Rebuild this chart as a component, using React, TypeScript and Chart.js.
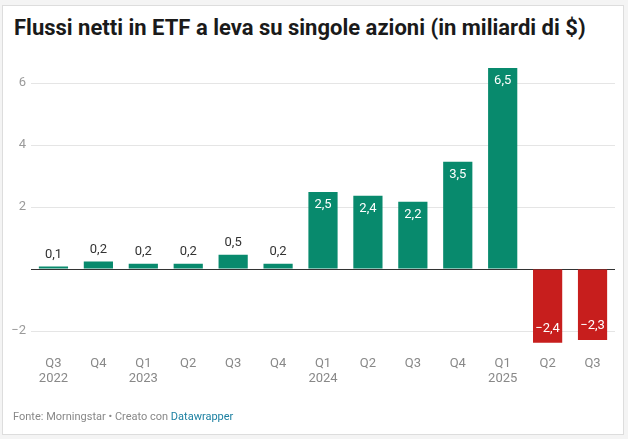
import React, { useEffect, useRef } from "react";
import { Chart, registerables } from "chart.js";

Chart.register(...registerables);

const quarters = ["Q3", "Q4", "Q1", "Q2", "Q3", "Q4", "Q1", "Q2", "Q3", "Q4", "Q1", "Q2", "Q3"];
const years = ["2022", "", "2023", "", "", "", "2024", "", "", "", "2025", "", ""];
const flows = [0.08, 0.24, 0.17, 0.17, 0.46, 0.17, 2.48, 2.36, 2.17, 3.46, 6.48, -2.38, -2.29];
const yTicks = [-2, 0, 2, 4, 6];

const GREEN = "#088a6d";
const RED = "#c71e1d";
const FONT = "Roboto, 'Noto Sans', sans-serif";

const fmt = (v: number) => v.toFixed(1).replace(".", ",").replace("-", "\u2212");

const valueLabels = {
  id: "valueLabels",
  afterDatasetsDraw(chart: any) {
    const ctx = chart.ctx;
    const meta = chart.getDatasetMeta(0);
    ctx.save();
    ctx.font = `400 13px ${FONT}`;
    ctx.textAlign = "center";
    ctx.textBaseline = "middle";
    meta.data.forEach((bar: any, i: number) => {
      const v = flows[i];
      const { x, y, base } = bar.getProps(["x", "y", "base"], true);
      const h = Math.abs(base - y);
      const t = fmt(v);
      if (v >= 0) {
        if (h > 26) {
          ctx.fillStyle = "#ffffff";
          ctx.fillText(t, x, y + 13);
        } else {
          ctx.fillStyle = "#333333";
          ctx.fillText(t, x, y - 12);
        }
      } else {
        if (h > 26) {
          ctx.fillStyle = "#ffffff";
          ctx.fillText(t, x, y - 14);
        } else {
          ctx.fillStyle = "#333333";
          ctx.fillText(t, x, y + 12);
        }
      }
    });
    ctx.restore();
  },
};

export default function App() {
  const ref = useRef<HTMLCanvasElement | null>(null);

  useEffect(() => {
    if (!ref.current) return;
    const labels = quarters.map((q, i) => (years[i] ? [q, years[i]] : [q]));
    const chart = new Chart(ref.current, {
      type: "bar",
      data: {
        labels,
        datasets: [
          {
            data: flows,
            backgroundColor: flows.map((v) => (v >= 0 ? GREEN : RED)),
            barPercentage: 0.65,
            categoryPercentage: 1,
            borderWidth: 0,
          },
        ],
      },
      options: {
        animation: false,
        responsive: false,
        maintainAspectRatio: false,
        layout: { padding: { left: 0, top: 67.5, right: 13, bottom: 0 } },
        plugins: { legend: { display: false }, tooltip: { enabled: false } },
        scales: {
          x: {
            grid: { display: false, drawTicks: false },
            border: { display: false },
            ticks: {
              color: "#888888",
              font: { family: FONT, size: 13, lineHeight: 1.2 },
              padding: 9,
              maxRotation: 0,
              autoSkip: false,
            },
            afterFit: (s: any) => {
              s.height = 92.5;
            },
          },
          y: {
            min: -2.5,
            max: 6.5,
            afterBuildTicks: (s: any) => {
              s.ticks = yTicks.map((v) => ({ value: v }));
            },
            afterFit: (s: any) => {
              s.width = 31;
            },
            grid: {
              drawTicks: false,
              color: (c: any) => (c.tick && c.tick.value === 0 ? "#333333" : "#e5e5e5"),
              lineWidth: 1,
            },
            border: { display: false },
            ticks: {
              color: "#9a9a9a",
              font: { family: FONT, size: 13 },
              padding: 5,
              callback: (v: any) => (v === 0 ? "" : String(v).replace("-", "\u2212")),
            },
          },
        },
      },
      plugins: [valueLabels],
    });
    return () => chart.destroy();
  }, []);

  return (
    <div
      style={{
        position: "absolute",
        left: 0,
        top: 0,
        width: 628,
        height: 439,
        background: "#f4f4f4",
        overflow: "hidden",
        fontFamily: FONT,
      }}
    >
      <div
        style={{
          position: "absolute",
          left: 2,
          top: 5,
          width: 620,
          height: 428,
          background: "#ffffff",
          border: "1px solid #dddddd",
        }}
      />
      <div
        style={{
          position: "absolute",
          left: 14,
          top: 14,
          fontSize: 22,
          fontWeight: 700,
          color: "#1a1a1a",
          whiteSpace: "nowrap",
          lineHeight: "28px",
        }}
      >
        Flussi netti in ETF a leva su singole azioni (in miliardi di $)
      </div>
      <canvas
        ref={ref}
        width={628}
        height={439}
        style={{ position: "absolute", left: 0, top: 0, width: 628, height: 439 }}
      />
      <div
        style={{
          position: "absolute",
          left: 13,
          top: 409,
          fontSize: 11,
          color: "#888888",
          whiteSpace: "nowrap",
          lineHeight: "15px",
        }}
      >
        Fonte: Morningstar • Creato con <span style={{ color: "#1d81a2" }}>Datawrapper</span>
      </div>
    </div>
  );
}
